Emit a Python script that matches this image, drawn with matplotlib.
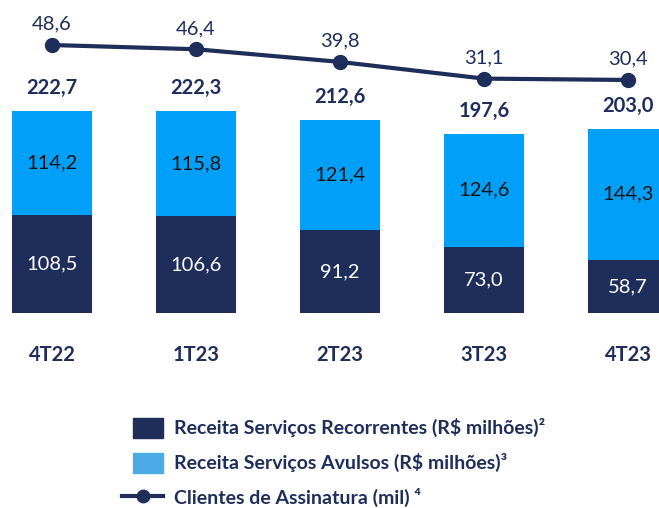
import matplotlib.pyplot as plt
from matplotlib.patches import Patch, Rectangle
from matplotlib.lines import Line2D
from matplotlib.legend_handler import HandlerPatch

plt.rcParams['font.family'] = ['Lato', 'DejaVu Sans']

categorias = ['4T22', '1T23', '2T23', '3T23', '4T23']
recorrentes = [108.5, 106.6, 91.2, 73.0, 58.7]
avulsos = [114.2, 115.8, 121.4, 124.6, 144.3]
totais = [222.7, 222.3, 212.6, 197.6, 203.0]
clientes = [48.6, 46.4, 39.8, 31.1, 30.4]

NAVY = '#1F2D5A'
AZUL = '#00A0F8'
AZUL_LEG = '#4AABE5'


def fmt(v):
    return f'{v:.1f}'.replace('.', ',')


def quadrado(legend, orig_handle, xdescent, ydescent, width, height, fontsize):
    # quadrado alinhado à direita da área do marcador
    w = width * 30 / 41
    return Rectangle((-xdescent + width - w, -ydescent), w, height)


fig = plt.figure(figsize=(6.59, 5.08), dpi=100)
ax = fig.add_axes([0, 0, 1, 1])
ax2 = ax.twinx()

x = range(len(categorias))
ax.bar(x, recorrentes, width=0.556, color=NAVY, linewidth=0)
ax.bar(x, avulsos, width=0.556, bottom=recorrentes, color=AZUL, linewidth=0)

ax.set_xlim(-0.361, 4.215)
ax.set_ylim(-215.0, 345.1)

for i in x:
    ax.text(i, recorrentes[i] / 2, fmt(recorrentes[i]), ha='center', va='center',
            color='white', fontsize=14.5)
    ax.text(i, recorrentes[i] + avulsos[i] / 2, fmt(avulsos[i]), ha='center',
            va='center', color='#111111', fontsize=14.5)
    ax.annotate(fmt(totais[i]), (i, totais[i]), xytext=(0, 16.5),
                textcoords='offset points', ha='center', va='center',
                color=NAVY, fontsize=14.5, fontweight='bold')
    ax.annotate(categorias[i], (i, 0), xytext=(0, -30),
                textcoords='offset points', ha='center', va='center',
                color=NAVY, fontsize=14.5, fontweight='bold')

ax2.plot(x, clientes, color=NAVY, linewidth=3, marker='o', markersize=10)
ax2.set_ylim(-192.5, 72.04)
for i in x:
    ax2.annotate(fmt(clientes[i]), (i, clientes[i]), xytext=(0, 15),
                 textcoords='offset points', ha='center', va='center',
                 color=NAVY, fontsize=14.5)

ax.axis('off')
ax2.axis('off')

handles = [
    Patch(color=NAVY),
    Patch(color=AZUL_LEG),
    Line2D([], [], color=NAVY, linewidth=3, marker='o', markersize=9),
]
labels = [
    'Receita Serviços Recorrentes (R$ milhões)²',
    'Receita Serviços Avulsos (R$ milhões)³',
    'Clientes de Assinatura (mil) ⁴',
]
fig.legend(handles, labels, loc='upper left',
           bbox_to_anchor=(122 / 659, 90 / 508), bbox_transform=fig.transFigure,
           frameon=False, borderpad=0, borderaxespad=0,
           handlelength=2.11, handleheight=1.18, handletextpad=0.57,
           labelspacing=0.78,
           handler_map={Patch: HandlerPatch(patch_func=quadrado)},
           prop={'size': 14, 'weight': 'bold'}, labelcolor=NAVY)

fig.savefig('out.png', dpi=100)
